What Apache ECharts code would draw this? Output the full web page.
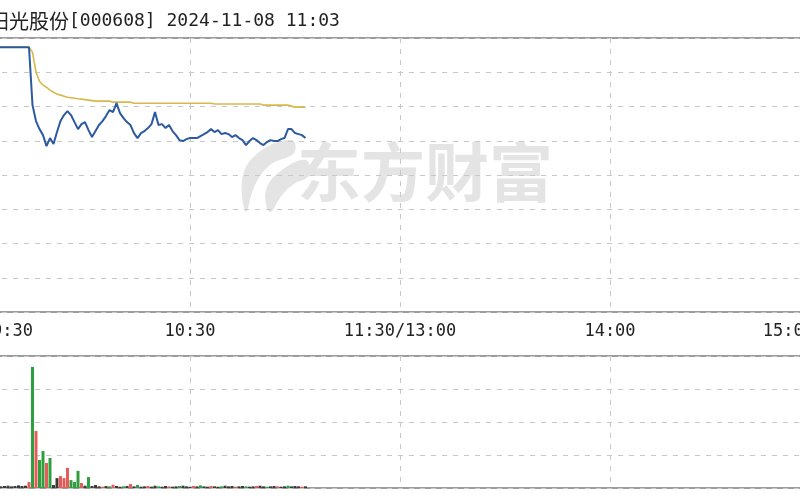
<!DOCTYPE html>
<html><head><meta charset="utf-8">
<script src="https://cdn.jsdelivr.net/npm/echarts@6/dist/echarts.min.js"></script>
<style>html,body{margin:0;padding:0;background:#fff}#c{width:800px;height:500px}</style>
</head><body><div id="c"></div>
<script>
// time axis: minute index from 9:30 (0) to 15:00 (240)
const tickLabels = ['9:30', '10:30', '11:30/13:00', '14:00', '15:00'];

// price change (%) vs previous close, one value per minute from 9:30 to 11:03
const pricePct = [
  10.00, 10.00, 10.00, 10.00, 10.00, 10.00, 10.00, 10.00, 10.00, 10.00,
  10.00, 10.00, 10.00, 10.00, 10.00, 5.47, 4.22, 3.59, 3.12, 2.26,
  2.89, 2.42, 3.36, 4.22, 4.69, 5.00, 4.69, 4.14, 3.59, 3.98,
  4.14, 3.51, 2.97, 3.44, 3.91, 4.22, 4.61, 5.08, 4.92, 5.62,
  4.84, 4.45, 4.14, 3.91, 3.28, 2.89, 3.28, 3.44, 3.67, 3.98,
  4.92, 3.91, 3.98, 3.67, 3.91, 3.44, 3.12, 2.73, 2.66, 2.81,
  2.89, 2.89, 2.89, 3.05, 3.20, 3.36, 3.59, 3.36, 3.51, 3.20,
  3.28, 3.20, 2.97, 3.12, 2.89, 2.73, 2.34, 2.66, 2.89, 2.73,
  2.50, 2.34, 2.58, 2.73, 2.66, 2.66, 2.81, 2.89, 3.59, 3.59,
  3.28, 3.20, 3.12, 2.89
];

// average price change (%)
const avgPct = [
  10.00, 10.00, 10.00, 10.00, 10.00, 10.00, 10.00, 10.00, 10.00, 10.00,
  10.00, 10.00, 10.00, 10.00, 10.00, 9.61, 8.04, 7.34, 7.03, 6.87,
  6.64, 6.48, 6.33, 6.25, 6.17, 6.09, 6.05, 6.01, 5.97, 5.94,
  5.90, 5.86, 5.82, 5.78, 5.78, 5.78, 5.78, 5.78, 5.70, 5.70,
  5.70, 5.70, 5.70, 5.70, 5.62, 5.62, 5.62, 5.62, 5.62, 5.62,
  5.62, 5.62, 5.62, 5.62, 5.62, 5.62, 5.62, 5.62, 5.62, 5.62,
  5.62, 5.62, 5.62, 5.62, 5.62, 5.62, 5.62, 5.55, 5.55, 5.55,
  5.55, 5.55, 5.55, 5.55, 5.55, 5.55, 5.55, 5.55, 5.55, 5.55,
  5.55, 5.47, 5.47, 5.47, 5.47, 5.47, 5.47, 5.47, 5.47, 5.39,
  5.31, 5.31, 5.31, 5.31
];

// volume per minute (lots)
const volume = [
  500, 700, 600, 500, 800, 600, 500, 600, 700, 500, 600, 800, 600, 700,
  1800, 36700, 17300, 8500, 11200, 7600, 9100, 900, 3000, 3600,
  3000, 6100, 2400, 1800, 5200, 1500, 700, 3300, 600, 900,
  500, 400, 600, 500, 1000, 600, 400, 500, 600, 1200,
  500, 900, 400, 500, 600, 400, 700, 500, 400, 600,
  500, 400, 500, 600, 700, 500, 400, 600, 500, 800,
  500, 400, 600, 500, 400, 500, 700, 500, 600, 400,
  500, 600, 500, 400, 500, 600, 700, 500, 400, 500,
  600, 500, 400, 500, 700, 500, 600, 500, 400, 500
];

// bar direction: 1 up (red), -1 down (green), 0 flat (dark)
const volDir = [
  0, 0, 0, 0, 0, 0, 0, 0, 0, 0, 0, 0, 0, 0,
  1, -1, 1, -1, -1, 1, -1, 0, 0, 1, 1, 1, -1, -1, -1, 1, 0, -1, 0, 0,
  0, 1, 0, -1, 1, 0, 0, -1, 0, 1,
  0, -1, 0, 0, 1, 0, 0, -1, 0, 0,
  1, 0, 0, -1, 0, 0, 0, 1, 0, -1,
  0, 0, 1, 0, 0, -1, 0, 0, 0, 1,
  0, 0, -1, 0, 0, 1, 0, 0, -1, 0,
  0, 1, 0, 0, -1, 0, 0, 0, 1, 0
];

const dirColor = { '1': '#e65a5a', '-1': '#2e9e3e', '0': '#3a3a3a' };
const mono = 'DejaVu Sans Mono';
const dash = { type: [5, 6], color: '#c8c8c8', width: 1 };

const priceData = pricePct.map((v, i) => [i, v]);
const avgData = avgPct.map((v, i) => [i, v]);
const volData = volume.map((v, i) => ({ value: [i, v], itemStyle: { color: dirColor[String(volDir[i])] } }));

const chart = echarts.init(document.getElementById('c'), null, { renderer: 'canvas' });
chart.setOption({
  animation: false,
  backgroundColor: '#ffffff',
  title: {
    left: -16, top: 6,
    text: '{c|阳光股份}{m|[000608] 2024-11-08 11:03}',
    textStyle: {
      fontWeight: 'normal',
      rich: {
        c: { fontFamily: 'Noto Sans CJK SC', fontSize: 20, fontWeight: 'normal', color: '#222' },
        m: { fontFamily: mono, fontSize: 18, fontWeight: 'normal', color: '#222' }
      }
    }
  },
  graphic: [
    { type: 'polygon', z: -1, shape: { points: [[292, 140], [262, 150], [243, 175], [246, 212], [255, 185], [270, 165], [294, 153]], smooth: 0.4 }, style: { fill: '#e4e4e4' } },
    { type: 'polygon', z: -1, shape: { points: [[306, 160], [282, 170], [266, 190], [270, 212], [282, 195], [294, 184], [308, 176]], smooth: 0.4 }, style: { fill: '#e4e4e4' } },
    { type: 'text', z: -1, left: 297, top: 140, style: { text: '东方财富', font: 'bold 64px "Noto Sans CJK SC"', fill: '#e4e4e4' } }
  ],
  grid: [
    { left: -20, right: -20, top: 38, height: 274, show: true, borderColor: '#9c9c9c', borderWidth: 2, outerBoundsMode: 'none', containLabel: false },
    { left: -20, right: -20, top: 356, height: 132, show: true, borderColor: '#9c9c9c', borderWidth: 2, outerBoundsMode: 'none', containLabel: false }
  ],
  xAxis: [
    {
      type: 'value', gridIndex: 0, min: 0, max: 240, interval: 60,
      axisLine: { show: false }, axisTick: { show: false },
      splitLine: { show: true, lineStyle: dash },
      axisLabel: {
        show: true, margin: 11, fontFamily: mono, fontSize: 17, color: '#222',
        alignMinLabel: 'left', alignMaxLabel: 'right',
        formatter: function (v) {
          const t = tickLabels[Math.round(v / 60)];
          if (v === 0) return '{a|' + t + '}';
          if (v === 240) return '{b|' + t + '}';
          return t;
        },
        rich: {
          a: { fontFamily: mono, fontSize: 17, color: '#222', padding: [0, 0, 0, 12] },
          b: { fontFamily: mono, fontSize: 17, color: '#222', padding: [0, 6, 0, 0] }
        }
      }
    },
    {
      type: 'value', gridIndex: 1, min: 0, max: 240, interval: 60,
      axisLine: { show: false }, axisTick: { show: false }, axisLabel: { show: false },
      splitLine: { show: true, lineStyle: dash }
    }
  ],
  yAxis: [
    {
      type: 'value', gridIndex: 0, min: -10.72, max: 10.72, interval: 2.68,
      axisLine: { show: false }, axisTick: { show: false }, axisLabel: { show: false },
      splitLine: { show: true, lineStyle: dash }
    },
    {
      type: 'value', gridIndex: 1, min: 0, max: 40000, interval: 10000,
      axisLine: { show: false }, axisTick: { show: false }, axisLabel: { show: false },
      splitLine: { show: true, lineStyle: dash }
    }
  ],
  series: [
    {
      type: 'line', name: '均价', xAxisIndex: 0, yAxisIndex: 0, data: avgData, showSymbol: false, symbol: 'none',
      z: 3, lineStyle: { color: '#d6b84c', width: 1.6 }
    },
    {
      type: 'line', name: '价格', xAxisIndex: 0, yAxisIndex: 0, data: priceData, showSymbol: false, symbol: 'none',
      z: 4, lineStyle: { color: '#2c5aa0', width: 2 }
    },
    {
      type: 'bar', name: '成交量', xAxisIndex: 1, yAxisIndex: 1, data: volData, barWidth: 3, z: 3
    }
  ]
});
</script>
</body></html>
